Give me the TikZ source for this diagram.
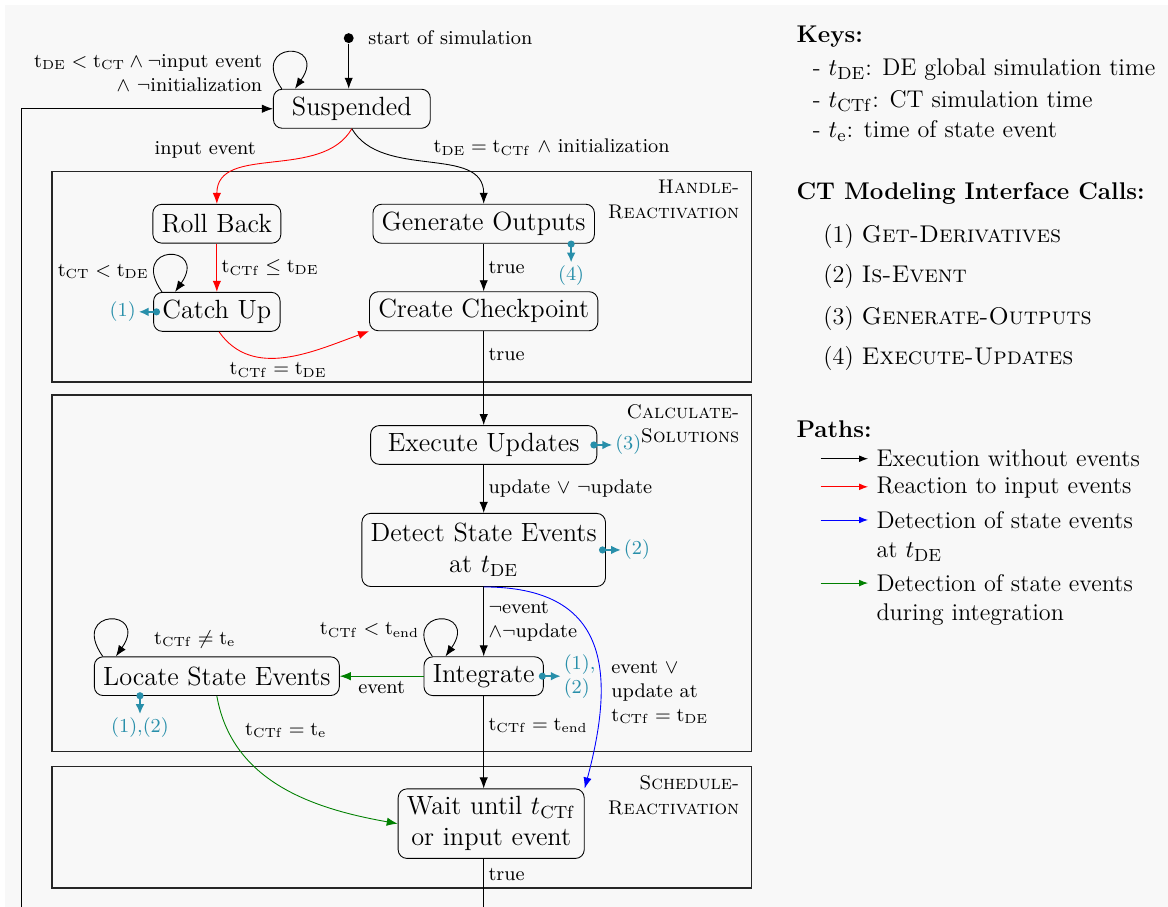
\documentclass[tikz,border=0pt]{standalone}
\usepackage{amsmath}
\usepackage{amssymb}
\usepackage{xcolor}
\usepackage{tikz}
\usetikzlibrary{positioning}
\usetikzlibrary{arrows.meta}
\usetikzlibrary{calc}

\definecolor{callcol}{RGB}{40,143,170}
\definecolor{bgcol}{RGB}{248,248,248}
\definecolor{evgreen}{RGB}{0,128,0}

\begin{document}
\begin{tikzpicture}
  [
    state/.style={
      draw=black,
      rounded corners=4pt,
      inner xsep=4pt,
      inner ysep=3.5pt,
      minimum height=6.2mm,
      align=center,
      font=\large
    },
    lbl/.style={font=\small, text=black, inner sep=2pt},
    phase/.style={draw=black!85, line width=0.6pt},
    title/.style={font=\small\scshape, align=right, anchor=north east,
      inner xsep=5.5pt, inner ysep=4pt},
    go/.style={-{Latex[length=5pt,width=3.8pt]}},
    call/.style={draw=callcol, line width=0.8pt,
      {Circle[length=3.2pt]}-{Latex[length=4.5pt,width=4pt]}},
    callnum/.style={text=callcol, font=\small, inner sep=1pt},
    keytext/.style={anchor=west, align=left, inner sep=0pt,
      font=\fontsize{11}{13.5}\selectfont},
    keyarrow/.style={-{Latex[length=4pt,width=3pt]}}
  ]
  \useasboundingbox (0,0) rectangle (18.69,-14.51);
  \clip (0,0) rectangle (18.69,-14.51);
  \fill[bgcol] (0.08,-0.08) rectangle (18.69,-14.51);

  % phases
  \draw[phase] (0.83,-2.74) rectangle (12.03,-6.11);
  \node (handlettl) at (12.03,-2.74) [title] {Handle-\\Reactivation};
  \draw[phase] (0.83,-6.32) rectangle (12.03,-12.02);
  \node (calcttl) at (12.03,-6.32) [title] {Calculate-\\Solutions};
  \draw[phase] (0.83,-12.27) rectangle (12.03,-14.21);
  \node (schedttl) at (12.03,-12.27) [title] {Schedule-\\Reactivation};

  % states
  \node (start) at (5.58,-0.61) [circle, fill=black, inner sep=1.6pt] {};
  \node (startlbl) [right=1.5mm of start, lbl] {start of simulation};
  \node (susp) at (5.63,-1.74) [state, minimum width=2.51cm] {Suspended};
  \node (roll) at (3.47,-3.58) [state] {Roll Back};
  \node (genout) at (7.74,-3.58) [state] {Generate Outputs};
  \node (catch) at (3.47,-4.99) [state] {Catch Up};
  \node (chkpt) at (7.74,-4.98) [state] {Create Checkpoint};
  \node (exec) at (7.74,-7.12) [state, minimum width=3.62cm] {Execute Updates};
  \node (detect) at (7.74,-8.80) [state, minimum height=1.17cm] {Detect State Events\\at $t_{\mathrm{DE}}$};
  \node (integ) at (7.74,-10.82) [state] {Integrate};
  \node (locate) at (3.47,-10.82) [state] {Locate State Events};
  \node (wait) at (7.86,-13.18) [state] {Wait until $t_{\mathrm{CTf}}$\\or input event};

  % transitions
  \draw[go] (start) -- (start |- susp.north);
  \draw[go] ([xshift=4pt]susp.north west) to[out=125, in=55, distance=0.95cm]
    node[lbl, pos=0.2, anchor=east, align=right, xshift=-1mm, yshift=-1.2mm]
      {$\mathrm{t_{DE}} < \mathrm{t_{CT}} \land \neg$input event\\$\land$ $\neg$initialization}
    ([xshift=10pt]susp.north west);
  \draw[go, red] (susp.south) to[out=-120, in=90]
    node[lbl, pos=0.5, above left, xshift=-2mm] {input event} (roll.north);
  \draw[go] (susp.south) to[out=-60, in=90]
    node[lbl, pos=0.5, above right, yshift=0.5mm]
      {$\mathrm{t_{DE}} = \mathrm{t_{CTf}}$ $\land$ initialization} (genout.north);

  \draw[go, red] (roll) -- node[lbl, right] {$\mathrm{t_{CTf}} \leq \mathrm{t_{DE}}$} (catch);
  \draw[go] ([xshift=4pt]catch.north west) to[out=125, in=55, distance=0.95cm]
    node[lbl, pos=0.2, left, yshift=-0.5mm] {$\mathrm{t_{CT}} < \mathrm{t_{DE}}$}
    ([xshift=10pt]catch.north west);
  \draw[call] ([xshift=0.11cm]catch.west) -- ++(-0.34,0) node[callnum, left] {(1)};
  \draw[go, red] ([xshift=1pt]catch.south) to[out=-55, in=200]
    node[lbl, below, pos=0.45] {$\mathrm{t_{CTf}} = \mathrm{t_{DE}}$} (chkpt.south west);
  \draw[go] (genout) -- node[lbl, right] {true} (chkpt);
  \draw[call] ([xshift=-0.38cm, yshift=0.05cm]genout.south east) -- ++(0,-0.35)
    node[callnum, below] {(4)};
  \draw[go] (chkpt) -- node[lbl, right, pos=0.25] {true} (exec);

  \draw[call] ([xshift=-0.11cm]exec.east) -- ++(0.35,0) node[callnum, right] {(3)};
  \draw[go] (exec) -- node[lbl, right] {update $\lor$ $\neg$update} (detect);
  \draw[call] ([xshift=-0.11cm]detect.east) -- ++(0.35,0) node[callnum, right] {(2)};
  \draw[go] (detect) -- node[lbl, right, align=left] {$\neg$event\\$\land\neg$update} (integ);
  \draw[go, blue] (detect.south) to[out=0, in=75, looseness=1.4]
    node[lbl, right, pos=0.7, align=left, xshift=1mm]
      {event $\lor$\\update at\\$\mathrm{t_{CTf}} = \mathrm{t_{DE}}$} (wait.north east);

  \draw[go] ([xshift=4pt]integ.north west) to[out=125, in=55, distance=0.95cm]
    node[lbl, pos=0.2, left, yshift=0.5mm] {$\mathrm{t_{CTf}} < \mathrm{t_{end}}$}
    ([xshift=10pt]integ.north west);
  \draw[call] ([xshift=-0.08cm]integ.east) -- ++(0.35,0)
    node[callnum, right, align=left] {(1),\\(2)};
  \draw[go, evgreen] (integ) -- node[lbl, below] {event} (locate);
  \draw[go] (integ) -- node[lbl, right, pos=0.32] {$\mathrm{t_{CTf}} = \mathrm{t_{end}}$}
    (integ |- wait.north);

  \draw[go] ([xshift=4pt]locate.north west) to[out=125, in=55, distance=0.95cm]
    node[lbl, pos=0.8, right, xshift=4mm, yshift=-1mm] {$\mathrm{t_{CTf}} \neq \mathrm{t_e}$}
    ([xshift=10pt]locate.north west);
  \draw[call] ([xshift=-1.23cm, yshift=0.06cm]locate.south) -- ++(0,-0.35)
    node[callnum, below] {(1),(2)};
  \draw[go, evgreen] (locate.south) to[out=-80, in=170]
    node[lbl, right, pos=0.15, xshift=2mm] {$\mathrm{t_{CTf}} = \mathrm{t_e}$} (wait.west);

  \draw[go] (integ |- wait.south) -- ++(0,-1) node[lbl, right, pos=0.25] {true}
    -| (0.34,-1.74) |- (susp.west);

  % legend
  \node (keys) at (12.74,-0.59) [keytext] {\textbf{Keys:}};
  \node (keyde) at (13.0,-1.12) [keytext] {- $t_{\mathrm{DE}}$: DE global simulation time};
  \node (keyct) at (13.0,-1.62) [keytext] {- $t_{\mathrm{CTf}}$: CT simulation time};
  \node (keye) at (13.0,-2.10) [keytext] {- $t_{\mathrm{e}}$: time of state event};

  \node (calls) at (12.74,-3.09) [keytext] {\textbf{CT Modeling Interface Calls:}};
  \node (callone) at (13.17,-3.79) [keytext] {(1) \textsc{Get-Derivatives}};
  \node (calltwo) at (13.17,-4.43) [keytext] {(2) \textsc{Is-Event}};
  \node (callthree) at (13.17,-5.10) [keytext] {(3) \textsc{Generate-Outputs}};
  \node (callfour) at (13.17,-5.74) [keytext] {(4) \textsc{Execute-Updates}};

  \node (paths) at (12.74,-6.86) [keytext] {\textbf{Paths:}};
  \node (pathblack) at (14.02,-7.34) [keytext] {Execution without events};
  \node (pathred) at (14.02,-7.81) [keytext] {Reaction to input events};
  \node (pathblue) at (14.02,-8.58) [keytext] {Detection of state events\\at $t_{\mathrm{DE}}$};
  \node (pathgreen) at (14.02,-9.60) [keytext] {Detection of state events\\during integration};
  \draw[keyarrow] (13.13,-7.34) -- ++(0.76,0);
  \draw[keyarrow, red] (13.13,-7.79) -- ++(0.76,0);
  \draw[keyarrow, blue] (13.13,-8.32) -- ++(0.76,0);
  \draw[keyarrow, evgreen] (13.13,-9.33) -- ++(0.76,0);
\end{tikzpicture}
\end{document}
